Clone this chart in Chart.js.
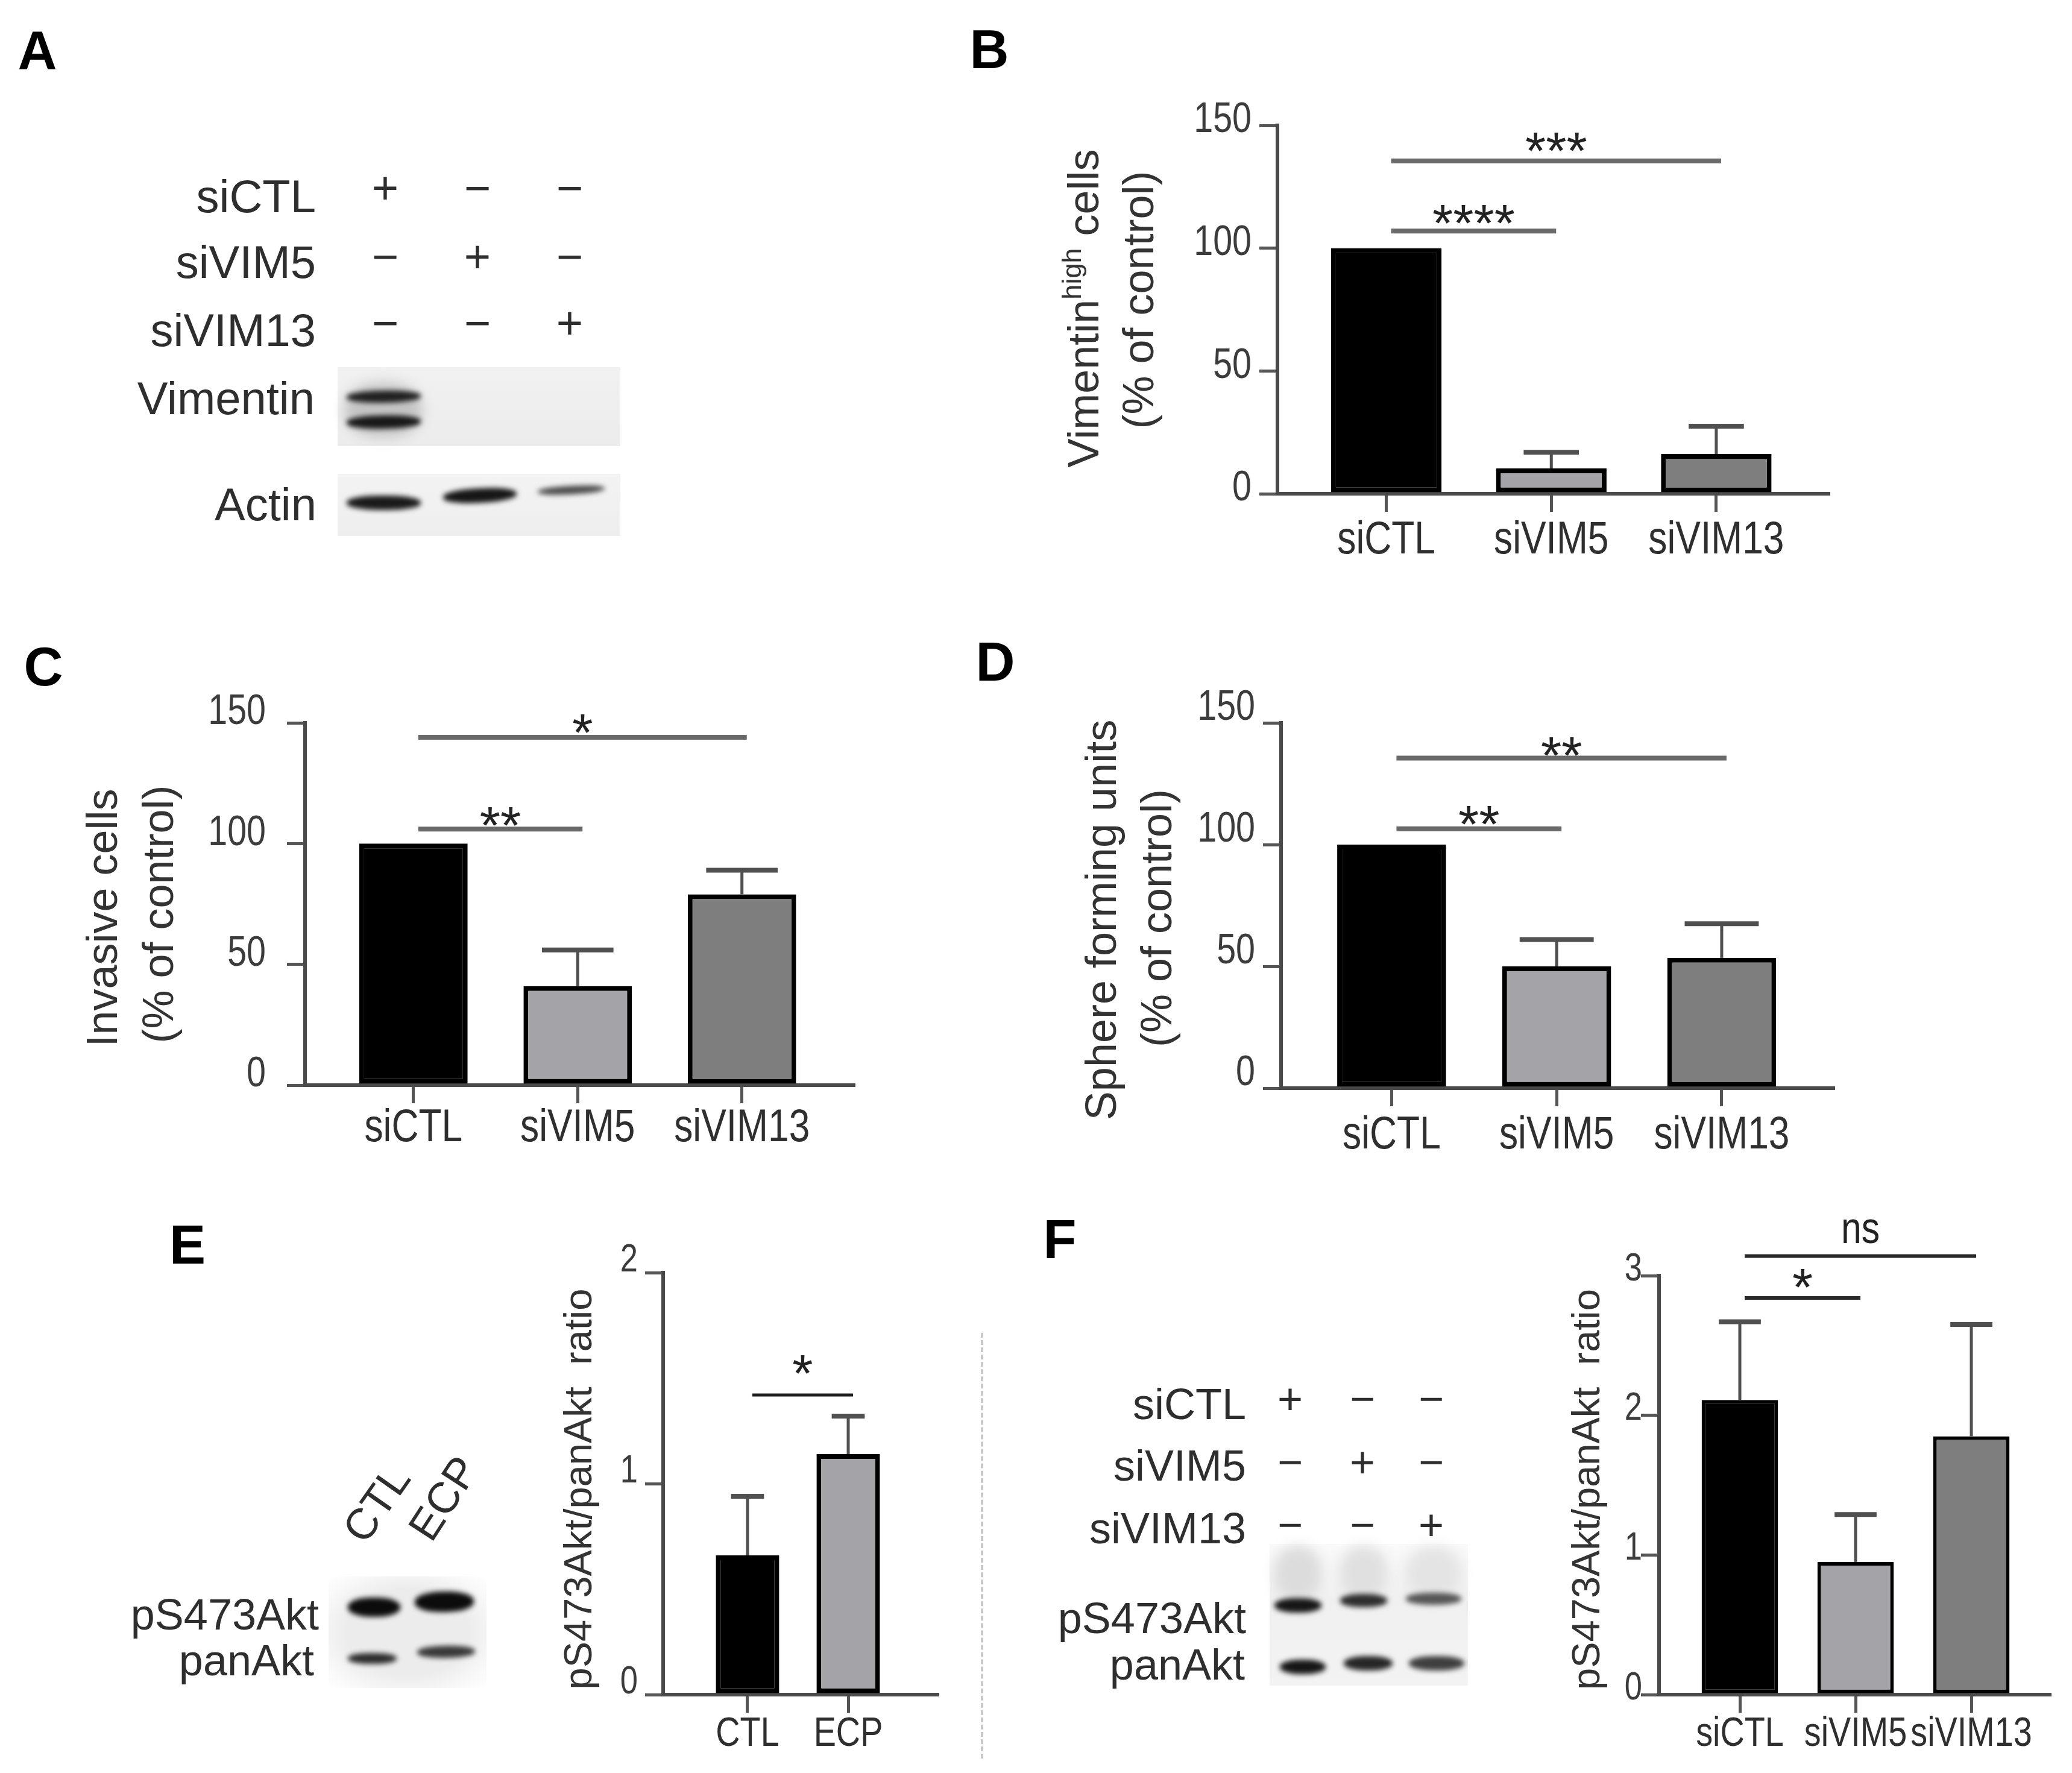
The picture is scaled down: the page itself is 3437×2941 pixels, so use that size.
<!DOCTYPE html>
<html>
<head>
<meta charset="utf-8">
<script src="https://cdn.jsdelivr.net/npm/chart.js@4.4.1/dist/chart.umd.min.js"></script>
<style>
  html, body { margin: 0; padding: 0; background: #fff; }
  #page { position: relative; width: 3437px; height: 2941px; overflow: hidden; background: #fff;
          font-family: "Liberation Sans", Arial, sans-serif; color: #2e2e2e; }
  #page canvas { position: absolute; }
  .txt { position: absolute; line-height: 1; white-space: nowrap; }
  .letter { position: absolute; line-height: 1; font-weight: bold; font-size: 90px; color: #000; transform: translate(-50%, -50%); }
  .blot { position: absolute; }
  .band { position: absolute; border-radius: 45%; filter: blur(4px); }
  .divider { position: absolute; border-left: 4px dashed #c9c9c9; }
</style>
</head>
<body>
<div id="page"></div>
<script>
// ---- data ----
const siCategories = ["siCTL", "siVIM5", "siVIM13"];
const ecpCategories = ["CTL", "ECP"];

const vimHighMean = [100, 10.3, 16.2];
const vimHighErr = [0, 6.6, 11.3];
const invasiveMean = [100, 41, 79];
const invasiveErr = [0, 15, 10];
const sphereMean = [100, 50, 53.5];
const sphereErr = [0, 11, 14];
const aktEcpMean = [0.66, 1.14];
const aktEcpErr = [0.28, 0.18];
const aktSiMean = [2.11, 0.95, 1.85];
const aktSiErr = [0.56, 0.34, 0.8];

const pctTicks = [0, 50, 100, 150];
const ratioTicksE = [0, 1, 2];
const ratioTicksF = [0, 1, 2, 3];

// significance brackets: category index pairs, bracket level (data units), label
const sigPairsB = [[0, 1], [0, 2]];
const sigLevelsB = [107, 135.5];
const sigLabelsB = ["****", "***"];
const sigPairsC = [[0, 1], [0, 2]];
const sigLevelsC = [106, 144];
const sigLabelsC = ["**", "*"];
const sigPairsD = [[0, 1], [0, 2]];
const sigLevelsD = [106.5, 135.5];
const sigLabelsD = ["**", "**"];
const sigPairsE = [[0, 1]];
const sigLevelsE = [1.42];
const sigLabelsE = ["*"];
const sigPairsF = [[0, 1], [0, 2]];
const sigLevelsF = [2.84, 3.14];
const sigLabelsF = ["*", "ns"];

// blot annotations
const blotRowsA = ["siCTL", "siVIM5", "siVIM13"];
const blotSigns = [["+", "\u2212", "\u2212"], ["\u2212", "+", "\u2212"], ["\u2212", "\u2212", "+"]];
const blotProteinsA = ["Vimentin", "Actin"];
const blotProteinsEF = ["pS473Akt", "panAkt"];

// ---- helpers ----
const SANS = '"Liberation Sans", Arial, sans-serif';
const page = document.getElementById("page");

function text(str, x, y, size, align, extra) {
  const d = document.createElement("div");
  d.className = "txt";
  d.textContent = str;
  d.style.left = x + "px";
  d.style.top = y + "px";
  d.style.fontSize = size + "px";
  const tx = align === "right" ? "-100%" : align === "center" ? "-50%" : "0";
  d.style.transform = "translate(" + tx + ", -50%)" + (extra || "");
  page.appendChild(d);
  return d;
}

function letter(ch, x, y) {
  const d = document.createElement("div");
  d.className = "letter";
  d.textContent = ch;
  d.style.left = x + "px";
  d.style.top = y + "px";
  page.appendChild(d);
}

function box(x, y, w, h, bg) {
  const d = document.createElement("div");
  d.className = "blot";
  Object.assign(d.style, { left: x + "px", top: y + "px", width: w + "px", height: h + "px", background: bg });
  page.appendChild(d);
}

function band(x0, x1, yc, h, color, tilt, blur) {
  const d = document.createElement("div");
  d.className = "band";
  Object.assign(d.style, {
    left: x0 + "px", top: (yc - h / 2) + "px", width: (x1 - x0) + "px", height: h + "px",
    background: color, transform: "rotate(" + (tilt || 0) + "deg)"
  });
  if (blur !== undefined) d.style.filter = "blur(" + blur + "px)";
  page.appendChild(d);
}

// ---- plugins ----
const errorBarsPlugin = {
  id: "errorBars",
  afterDatasetsDraw(chart, args, opts) {
    const ctx = chart.ctx;
    const ys = chart.scales.y;
    const meta = chart.getDatasetMeta(0);
    const ds = chart.data.datasets[0];
    ctx.save();
    ctx.strokeStyle = opts.color;
    meta.data.forEach((bar, i) => {
      const err = opts.errors[i];
      if (!err) return;
      const v = ds.data[i].y;
      const yTop = ys.getPixelForValue(v);
      const yCap = ys.getPixelForValue(v + err);
      const half = bar.width * opts.capRatio / 2;
      ctx.lineWidth = opts.stemWidth;
      ctx.beginPath();
      ctx.moveTo(bar.x, yTop);
      ctx.lineTo(bar.x, yCap);
      ctx.stroke();
      ctx.lineWidth = opts.capWidth;
      ctx.beginPath();
      ctx.moveTo(bar.x - half, yCap);
      ctx.lineTo(bar.x + half, yCap);
      ctx.stroke();
    });
    ctx.restore();
  }
};

const sigPlugin = {
  id: "sig",
  afterDraw(chart, args, opts) {
    const ctx = chart.ctx;
    const xs = chart.scales.x, ys = chart.scales.y;
    ctx.save();
    opts.pairs.forEach((p, k) => {
      const y = ys.getPixelForValue(opts.levels[k]);
      const x0 = xs.getPixelForValue(p[0]) + opts.inset;
      const x1 = xs.getPixelForValue(p[1]) + opts.inset;
      ctx.strokeStyle = opts.lineColor;
      ctx.lineWidth = opts.lineWidth;
      ctx.beginPath();
      ctx.moveTo(x0, y);
      ctx.lineTo(x1, y);
      ctx.stroke();
      const lab = opts.labels[k];
      const isStar = lab.indexOf("*") >= 0;
      const fs = isStar ? opts.starSize : opts.textSize;
      ctx.font = fs + "px " + SANS;
      ctx.fillStyle = opts.textColor;
      ctx.textAlign = "center";
      ctx.textBaseline = "alphabetic";
      const glyphMid = isStar ? 0.57 * fs : 0.26 * fs;
      ctx.save();
      ctx.translate((x0 + x1) / 2, y - opts.lifts[k] + glyphMid);
      if (!isStar) ctx.scale(opts.squeeze, 1);
      ctx.fillText(lab, 0, 0);
      ctx.restore();
    });
    ctx.restore();
  }
};

// tick labels drawn from the scales' own ticks, in the condensed look of the original export
const tickLabelsPlugin = {
  id: "tickLabels",
  afterDraw(chart, args, opts) {
    const ctx = chart.ctx, a = chart.chartArea;
    const xs = chart.scales.x, ys = chart.scales.y;
    ctx.save();
    ctx.textBaseline = "middle";
    ctx.fillStyle = opts.xColor;
    ctx.font = opts.xFont + "px " + SANS;
    ctx.textAlign = "center";
    xs.ticks.forEach(t => {
      ctx.save();
      ctx.translate(xs.getPixelForValue(t.value), a.bottom + opts.xDy);
      ctx.scale(opts.squeeze, 1);
      ctx.fillText(opts.categories[t.value], 0, 0);
      ctx.restore();
    });
    ctx.fillStyle = opts.yColor;
    ctx.font = opts.yFont + "px " + SANS;
    ctx.textAlign = "right";
    ys.ticks.forEach(t => {
      ctx.save();
      ctx.translate(a.left - opts.yDx, ys.getPixelForValue(t.value) + opts.yDy);
      ctx.scale(opts.squeeze, 1);
      ctx.fillText(String(t.value), 0, 0);
      ctx.restore();
    });
    ctx.restore();
  }
};

const yTitlePlugin = {
  id: "yTitle",
  afterDraw(chart, args, opts) {
    const ctx = chart.ctx, a = chart.chartArea;
    ctx.save();
    ctx.fillStyle = opts.color;
    ctx.textBaseline = "middle";
    ctx.textAlign = "left";
    opts.lines.forEach((line, k) => {
      const segs = [];
      for (let j = 0; j < line.length; j++) {
        const s = line[j];
        segs.push({ text: s, sup: opts.supSegments.indexOf(s) >= 0 });
      }
      let total = 0;
      segs.forEach(s => {
        ctx.font = (s.sup ? Math.round(opts.size * 0.62) : opts.size) + "px " + SANS;
        s.w = ctx.measureText(s.text).width;
        total += s.w;
      });
      ctx.save();
      ctx.translate(a.left + opts.dx[k], (a.top + a.bottom) / 2 + opts.dy[k]);
      ctx.rotate(-Math.PI / 2);
      let x = -total / 2;
      segs.forEach(s => {
        ctx.font = (s.sup ? Math.round(opts.size * 0.62) : opts.size) + "px " + SANS;
        ctx.fillText(s.text, x, s.sup ? -opts.size * 0.3 : 0);
        x += s.w;
      });
      ctx.restore();
    });
    ctx.restore();
  }
};

function barChart(cfg) {
  const left = cfg.area[0] - cfg.yW;
  const top = cfg.area[1] - cfg.padTop;
  const width = cfg.area[2] - left + cfg.padRight;
  const height = cfg.area[3] + cfg.xH - top;
  const canvas = document.createElement("canvas");
  canvas.width = width;
  canvas.height = height;
  Object.assign(canvas.style, { left: left + "px", top: top + "px", width: width + "px", height: height + "px" });
  page.appendChild(canvas);

  const axisGrid = { display: true, drawOnChartArea: false, drawTicks: true, tickLength: 30, color: "#555", lineWidth: 5, offset: false };
  const axisBorder = { display: true, color: "#4a4a4a", width: 6 };

  return new Chart(canvas, {
    type: "bar",
    data: {
      datasets: [{
        data: cfg.categories.map((c, i) => ({ x: i, y: cfg.values[i] })),
        backgroundColor: cfg.colors,
        borderColor: "#000",
        borderWidth: cfg.borderWidth,
        borderSkipped: false,
        barPercentage: cfg.barPct,
        categoryPercentage: 1
      }]
    },
    options: {
      responsive: false,
      animation: false,
      devicePixelRatio: 1,
      layout: { padding: { top: cfg.padTop, right: cfg.padRight, left: 0, bottom: 0 } },
      plugins: {
        legend: { display: false },
        tooltip: { enabled: false },
        errorBars: { errors: cfg.errors, color: "#505050", stemWidth: 5, capWidth: 8, capRatio: cfg.capRatio },
        sig: {
          pairs: cfg.sigPairs, levels: cfg.sigLevels, labels: cfg.sigLabels, lifts: cfg.sigLifts,
          lineColor: cfg.sigColor, lineWidth: cfg.sigWidth, inset: 8, squeeze: 0.82,
          textColor: "#222", starSize: cfg.starSize, textSize: 74
        },
        tickLabels: {
          categories: cfg.categories, squeeze: 0.82,
          xFont: cfg.xFont, xDy: cfg.xDy, xColor: "#2f2f2f",
          yFont: cfg.yFont, yDx: cfg.yDx, yDy: cfg.yDy, yColor: "#3c3c3c"
        },
        yTitle: { lines: cfg.titleLines, supSegments: ["high"], dx: cfg.titleDx, dy: cfg.titleDy, size: cfg.titleSize, color: "#333" }
      },
      scales: {
        x: {
          type: "linear",
          bounds: "data",
          min: cfg.xMin,
          max: cfg.xMax,
          offset: false,
          afterBuildTicks: s => { s.ticks = cfg.categories.map((c, i) => ({ value: i })); },
          afterFit: s => { s.height = cfg.xH; },
          grid: axisGrid,
          border: axisBorder,
          ticks: { display: false, autoSkip: false, maxRotation: 0 }
        },
        y: {
          min: 0,
          max: cfg.yMax,
          afterBuildTicks: s => { s.ticks = cfg.yTicks.map(v => ({ value: v })); },
          afterFit: s => { s.width = cfg.yW; },
          grid: axisGrid,
          border: axisBorder,
          ticks: { display: false }
        }
      }
    },
    plugins: [errorBarsPlugin, sigPlugin, tickLabelsPlugin, yTitlePlugin]
  });
}

// ---- panel letters ----
letter("A", 62, 84);
letter("B", 1641, 82);
letter("C", 72, 1106);
letter("D", 1651, 1098);
letter("E", 311, 2065);
letter("F", 1758, 2056);

// ---- panel A blot ----
const signColsA = [639, 792, 945];
const signRowsA = [312, 426, 536];
const labelRowsA = [326, 435, 548];
blotRowsA.forEach((r, i) => {
  text(r, 524, labelRowsA[i], 76, "right");
  blotSigns[i].forEach((s, j) => text(s, signColsA[j], signRowsA[i], 76, "center"));
});
box(560, 609, 469, 131, "linear-gradient(#f1f1f1, #ececec)");
band(572, 700, 680, 90, "#c4c4c4", 0, 10);
band(575, 698, 658, 20, "#202020", -1);
band(575, 698, 700, 22, "#181818", -1);
box(560, 786, 469, 103, "linear-gradient(#f3f3f3, #eeeeee)");
band(575, 698, 834, 24, "#1a1a1a", 0);
band(735, 857, 822, 24, "#161616", -3);
band(892, 1003, 813, 14, "#4a4a4a", -3);
text(blotProteinsA[0], 522, 661, 76, "right");
text(blotProteinsA[1], 525, 837, 76, "right");

// ---- panel E blot ----
text(ecpCategories[0], 624, 2494, 72, "center", " rotate(-55deg)");
text(ecpCategories[1], 735, 2485, 72, "center", " rotate(-57deg)");
box(545, 2615, 262, 185, "radial-gradient(ellipse at center, #ececec 55%, #f8f8f8 80%, #fff 100%)");
band(577, 664, 2666, 32, "#0c0c0c", 0);
band(688, 786, 2657, 34, "#0c0c0c", -1);
band(577, 658, 2751, 18, "#2c2c2c", 0);
band(692, 788, 2740, 20, "#383838", -1);
text(blotProteinsEF[0], 529, 2678, 72, "right");
text(blotProteinsEF[1], 521, 2754, 72, "right");

// ---- divider between E and F ----
const dv = document.createElement("div");
dv.className = "divider";
Object.assign(dv.style, { left: "1627px", top: "2211px", height: "706px" });
page.appendChild(dv);

// ---- panel F blot ----
const signColsF = [2140, 2260, 2374];
const signRowsF = [2320, 2425, 2529];
const labelRowsF = [2329, 2431, 2535];
blotRowsA.forEach((r, i) => {
  text(r, 2067, labelRowsF[i], 72, "right");
  blotSigns[i].forEach((s, j) => text(s, signColsF[j], signRowsF[i], 72, "center"));
});
box(2106, 2561, 329, 235, "linear-gradient(#fafafa, #f0f0f0 40%, #f3f3f3)");
band(2114, 2192, 2610, 90, "#dcdcdc", 0, 10);
band(2223, 2301, 2610, 90, "#e0e0e0", 0, 10);
band(2332, 2424, 2610, 90, "#e4e4e4", 0, 10);
band(2114, 2192, 2663, 24, "#161616", 0);
band(2223, 2301, 2655, 22, "#2e2e2e", 0);
band(2332, 2424, 2652, 20, "#555", 0);
band(2123, 2199, 2765, 24, "#161616", 0);
band(2229, 2310, 2759, 24, "#262626", 0);
band(2337, 2429, 2759, 24, "#3e3e3e", 0);
text(blotProteinsEF[0], 2067, 2684, 72, "right");
text(blotProteinsEF[1], 2065, 2761, 72, "right");

// ---- charts ----
const siColors = ["#000000", "#a4a4a8", "#7e7e7e"];

barChart({
  area: [2119, 208, 3033, 819], yW: 379, padTop: 68, padRight: 24, xH: 150,
  categories: siCategories, values: vimHighMean, errors: vimHighErr, colors: siColors,
  borderWidth: 8, barPct: 0.67, capRatio: 0.5, xMin: -0.66, xMax: 2.68,
  yMax: 150, yTicks: pctTicks, yFont: 70, yDx: 43, yDy: -8, xFont: 76, xDy: 78,
  sigPairs: sigPairsB, sigLevels: sigLevelsB, sigLabels: sigLabelsB, sigLifts: [33, 37],
  sigColor: "#6a6a6a", sigWidth: 8, starSize: 88,
  titleLines: [["Vimentin", "high", " cells"], ["(% of control)"]], titleDx: [-317, -226], titleDy: [-2, -16], titleSize: 72
});

barChart({
  area: [506, 1199, 1416, 1800], yW: 396, padTop: 80, padRight: 24, xH: 150,
  categories: siCategories, values: invasiveMean, errors: invasiveErr, colors: siColors,
  borderWidth: 8, barPct: 0.66, capRatio: 0.66, xMin: -0.66, xMax: 2.68,
  yMax: 150, yTicks: pctTicks, yFont: 70, yDx: 65, yDy: -17, xFont: 76, xDy: 72,
  sigPairs: sigPairsC, sigLevels: sigLevelsC, sigLabels: sigLabelsC, sigLifts: [26, 28],
  sigColor: "#6a6a6a", sigWidth: 8, starSize: 88,
  titleLines: [["Invasive cells"], ["(% of control)"]], titleDx: [-332, -239], titleDy: [23, 17], titleSize: 72
});

barChart({
  area: [2125, 1199, 3041, 1805], yW: 355, padTop: 80, padRight: 24, xH: 150,
  categories: siCategories, values: sphereMean, errors: sphereErr, colors: siColors,
  borderWidth: 8, barPct: 0.66, capRatio: 0.68, xMin: -0.67, xMax: 2.676,
  yMax: 150, yTicks: pctTicks, yFont: 70, yDx: 43, yDy: -24, xFont: 76, xDy: 79,
  sigPairs: sigPairsD, sigLevels: sigLevelsD, sigLabels: sigLabelsD, sigLifts: [28, 25],
  sigColor: "#6a6a6a", sigWidth: 8, starSize: 88,
  titleLines: [["Sphere forming units"], ["(% of control)"]], titleDx: [-294, -202], titleDy: [24, 21], titleSize: 72
});

barChart({
  area: [1100, 2111, 1555, 2811], yW: 200, padTop: 50, padRight: 20, xH: 120,
  categories: ecpCategories, values: aktEcpMean, errors: aktEcpErr, colors: ["#000000", "#a4a4a8"],
  borderWidth: 8, barPct: 0.63, capRatio: 0.52, xMin: -0.838, xMax: 1.886,
  yMax: 2, yTicks: ratioTicksE, yFont: 64, yDx: 42, yDy: -20, xFont: 68, xDy: 66,
  sigPairs: sigPairsE, sigLevels: sigLevelsE, sigLabels: sigLabelsE, sigLifts: [56],
  sigColor: "#1e1e1e", sigWidth: 5, starSize: 88,
  titleLines: [["pS473Akt/panAkt  ratio"]], titleDx: [-137], titleDy: [9], titleSize: 65
});

barChart({
  area: [2752, 2116, 3400, 2811], yW: 172, padTop: 126, padRight: 30, xH: 120,
  categories: siCategories, values: aktSiMean, errors: aktSiErr, colors: siColors,
  borderWidth: 6, barPct: 0.66, capRatio: 0.55, xMin: -0.698, xMax: 2.677,
  yMax: 3, yTicks: ratioTicksF, yFont: 64, yDx: 28, yDy: -10, xFont: 68, xDy: 66,
  sigPairs: sigPairsF, sigLevels: sigLevelsF, sigLabels: sigLabelsF, sigLifts: [38, 41],
  sigColor: "#2a2a2a", sigWidth: 6, starSize: 88,
  titleLines: [["pS473Akt/panAkt  ratio"]], titleDx: [-117], titleDy: [7], titleSize: 65
});
</script>
</body>
</html>
